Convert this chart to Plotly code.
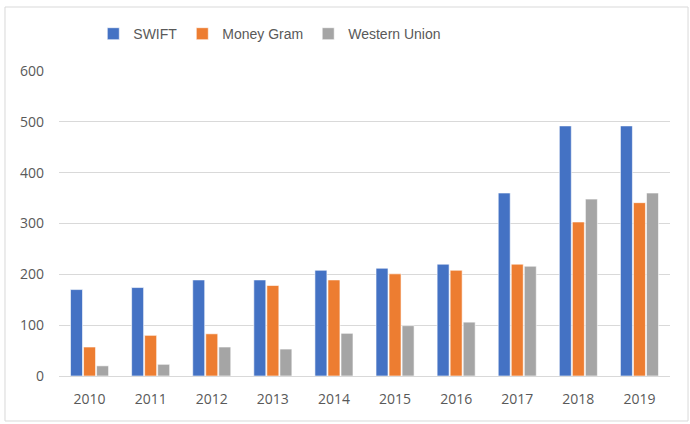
import plotly.graph_objects as go

years = ["2010", "2011", "2012", "2013", "2014", "2015", "2016", "2017", "2018", "2019"]
swift = [170, 174, 189, 189, 208, 212, 220, 360, 492, 492]
money_gram = [57, 80, 83, 178, 189, 201, 208, 220, 303, 341]
western_union = [20, 23, 57, 53, 84, 99, 106, 216, 348, 360]

series = [
    ("SWIFT", swift, "#4472C4"),
    ("Money Gram", money_gram, "#ED7D31"),
    ("Western Union", western_union, "#A5A5A5"),
]

fig = go.Figure()
for name, vals, color in series:
    fig.add_trace(go.Bar(
        x=years, y=vals, name=name,
        marker=dict(color=color, line=dict(color="white", width=0.6)),
    ))

font_family = "Open Sans, Liberation Sans, sans-serif"

fig.update_layout(
    width=690, height=424,
    margin=dict(l=59, r=20, t=71, b=48),
    paper_bgcolor="white", plot_bgcolor="white",
    barmode="group", bargap=0.36, bargroupgap=0.08,
    font=dict(family=font_family, size=14, color="#595959"),
    showlegend=True,
    legend=dict(
        orientation="h", x=0.345, xanchor="center", y=1.121, yanchor="middle",
        font=dict(family="Liberation Sans, sans-serif", size=14, color="#595959"),
        itemwidth=30, traceorder="normal",
    ),
    xaxis=dict(
        showgrid=False, showline=True, linecolor="#D9D9D9", linewidth=1,
        ticks="", ticklabelstandoff=10,
        tickfont=dict(size=14, color="#595959"),
    ),
    yaxis=dict(
        range=[0, 600], dtick=100, showgrid=True, gridcolor="#D9D9D9", gridwidth=1,
        zeroline=False, showline=False, ticks="", ticklabelstandoff=14,
        tickfont=dict(size=14, color="#595959"),
    ),
    shapes=[dict(
        type="rect", xref="paper", yref="paper",
        x0=-0.0884, x1=1.0295, y0=-0.1475, y1=1.2098,
        line=dict(color="#D9D9D9", width=1), fillcolor="rgba(0,0,0,0)",
    )],
)

fig.write_html(
    "out.html",
    config={"displayModeBar": False},
    post_script="document.body.style.margin='0';document.body.style.overflow='hidden';",
)
